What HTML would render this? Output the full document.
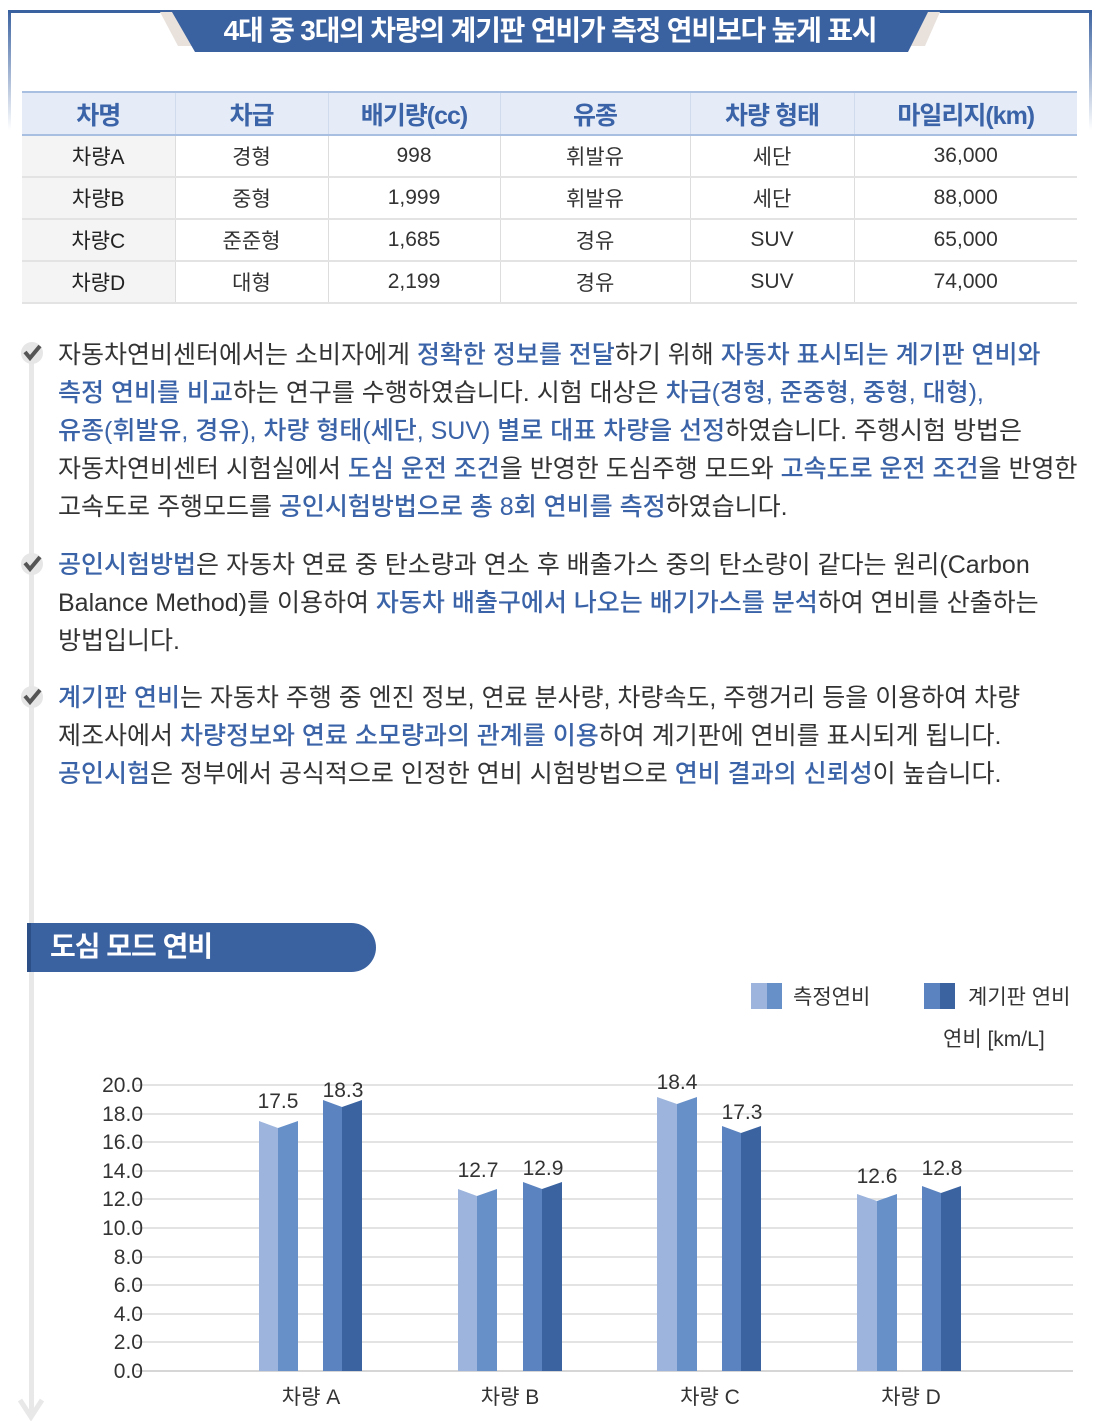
<!DOCTYPE html>
<html><head><meta charset="utf-8">
<style>
body{margin:0;width:1100px;height:1421px;background:#fff;position:relative;overflow:hidden;font-family:"Liberation Sans","Noto Sans CJK KR",sans-serif;color:#333}
.a{position:absolute}
.ln{position:absolute;left:58px;font-size:25px;letter-spacing:0px;white-space:nowrap;line-height:30px;color:#333}
.b{color:#3a63a8;font-weight:500}
table{position:absolute;left:22px;top:91px;width:1055px;border-collapse:collapse;font-size:21px;table-layout:fixed}
td,th{text-align:center;height:40px;padding:0;border-right:1px solid #ddd;border-bottom:2px solid #e3e3e3}
td:last-child,th:last-child{border-right:none}
th{background:#e6ecf7;color:#3a63a8;font-size:25px;font-weight:bold;letter-spacing:-1px;border-top:2px solid #a9bfe2;border-bottom:2px solid #a9bfe2;border-right:1px solid #d0dbee;height:41px}
td:first-child{background:#f4f4f4;color:#222}
</style></head><body>
<div class="a" style="left:8px;top:10px;width:1084px;height:3px;background:#3b62a0"></div>
<div class="a" style="left:8px;top:10px;width:3px;height:120px;background:linear-gradient(#3b62a0,rgba(59,98,160,0))"></div>
<div class="a" style="left:1089px;top:10px;width:3px;height:120px;background:linear-gradient(#3b62a0,rgba(59,98,160,0))"></div>
<svg class="a" style="left:0;top:0" width="1100" height="60">
<polygon points="160,12 178,12 198,46 178,46" fill="#e9e2dc"/>
<polygon points="940,12 922,12 905,46 925,46" fill="#e9e2dc"/>
<polygon points="172,12 928,12 908,52 195,52" fill="#3b62a0"/>
</svg>
<div class="a" style="left:0;width:1100px;top:13px;text-align:center;color:#fff;font-size:28px;font-weight:bold;letter-spacing:-1.2px;line-height:36px">4대 중 3대의 차량의 계기판 연비가 측정 연비보다 높게 표시</div>
<table>
<colgroup><col style="width:153px"><col style="width:153px"><col style="width:172px"><col style="width:190px"><col style="width:164px"><col></colgroup>
<tr><th>차명</th><th>차급</th><th>배기량(cc)</th><th>유종</th><th>차량 형태</th><th>마일리지(km)</th></tr>
<tr><td>차량A</td><td>경형</td><td>998</td><td>휘발유</td><td>세단</td><td>36,000</td></tr>
<tr><td>차량B</td><td>중형</td><td>1,999</td><td>휘발유</td><td>세단</td><td>88,000</td></tr>
<tr><td>차량C</td><td>준준형</td><td>1,685</td><td>경유</td><td>SUV</td><td>65,000</td></tr>
<tr><td>차량D</td><td>대형</td><td>2,199</td><td>경유</td><td>SUV</td><td>74,000</td></tr>
</table>
<div class="a" style="left:29px;top:345px;width:5px;height:1068px;background:#e8e8e8"></div>
<svg class="a" style="left:0;top:1390px" width="70" height="31"><polyline points="20,10 31,27 42,10" fill="none" stroke="#e8e8e8" stroke-width="5"/></svg>
<svg class="a" style="left:18px;top:338px" width="30" height="30"><circle cx="14" cy="15" r="11" fill="#e6e6e6"/><polyline points="7,14 12,20 22,8" fill="none" stroke="#555" stroke-width="4"/></svg>
<svg class="a" style="left:18px;top:549px" width="30" height="30"><circle cx="14" cy="15" r="11" fill="#e6e6e6"/><polyline points="7,14 12,20 22,8" fill="none" stroke="#555" stroke-width="4"/></svg>
<svg class="a" style="left:18px;top:682px" width="30" height="30"><circle cx="14" cy="15" r="11" fill="#e6e6e6"/><polyline points="7,14 12,20 22,8" fill="none" stroke="#555" stroke-width="4"/></svg>

<div class="ln" style="top:340px">자동차연비센터에서는 소비자에게 <span class="b">정확한 정보를 전달</span>하기 위해 <span class="b">자동차 표시되는 계기판 연비와</span></div>
<div class="ln" style="top:378px"><span class="b">측정 연비를 비교</span>하는 연구를 수행하였습니다. 시험 대상은 <span class="b">차급(경형, 준중형, 중형, 대형),</span></div>
<div class="ln" style="top:416px"><span class="b">유종(휘발유, 경유), 차량 형태(세단, SUV) 별로 대표 차량을 선정</span>하였습니다. 주행시험 방법은</div>
<div class="ln" style="top:454px">자동차연비센터 시험실에서 <span class="b">도심 운전 조건</span>을 반영한 도심주행 모드와 <span class="b">고속도로 운전 조건</span>을 반영한</div>
<div class="ln" style="top:492px">고속도로 주행모드를 <span class="b">공인시험방법으로 총 8회 연비를 측정</span>하였습니다.</div>
<div class="ln" style="top:550px"><span class="b">공인시험방법</span>은 자동차 연료 중 탄소량과 연소 후 배출가스 중의 탄소량이 같다는 원리(Carbon</div>
<div class="ln" style="top:588px">Balance Method)를 이용하여 <span class="b">자동차 배출구에서 나오는 배기가스를 분석</span>하여 연비를 산출하는</div>
<div class="ln" style="top:626px">방법입니다.</div>
<div class="ln" style="top:683px"><span class="b">계기판 연비</span>는 자동차 주행 중 엔진 정보, 연료 분사량, 차량속도, 주행거리 등을 이용하여 차량</div>
<div class="ln" style="top:721px">제조사에서 <span class="b">차량정보와 연료 소모량과의 관계를 이용</span>하여 계기판에 연비를 표시되게 됩니다.</div>
<div class="ln" style="top:759px"><span class="b">공인시험</span>은 정부에서 공식적으로 인정한 연비 시험방법으로 <span class="b">연비 결과의 신뢰성</span>이 높습니다.</div>

<div class="a" style="left:27px;top:923px;width:349px;height:49px;background:#3b62a0;border-radius:0 25px 25px 0;border-left:4px solid #2c4f88;box-sizing:border-box"></div>
<div class="a" style="left:50px;top:927px;color:#fff;font-size:28px;font-weight:bold;letter-spacing:-1px;line-height:40px">도심 모드 연비</div>

<svg class="a" style="left:0;top:0" width="1100" height="1421" font-family="Liberation Sans, Noto Sans CJK KR, sans-serif">
<rect x="751" y="983" width="16" height="26" fill="#9db5dc"/><rect x="767" y="983" width="15" height="26" fill="#6790c8"/>
<text x="793" y="1004" font-size="21" fill="#333">측정연비</text>
<rect x="924" y="983" width="16" height="26" fill="#5b83c0"/><rect x="940" y="983" width="15" height="26" fill="#3a63a0"/>
<text x="968" y="1004" font-size="21" fill="#333">계기판 연비</text>
<text x="943" y="1046" font-size="21" fill="#333">연비 [km/L]</text>
<g stroke="#e3e3e3" stroke-width="2">
<line x1="136" x2="1073" y1="1085" y2="1085"/><line x1="136" x2="1073" y1="1114" y2="1114"/><line x1="136" x2="1073" y1="1142" y2="1142"/><line x1="136" x2="1073" y1="1171" y2="1171"/><line x1="136" x2="1073" y1="1199" y2="1199"/><line x1="136" x2="1073" y1="1228" y2="1228"/><line x1="136" x2="1073" y1="1257" y2="1257"/><line x1="136" x2="1073" y1="1285" y2="1285"/><line x1="136" x2="1073" y1="1314" y2="1314"/><line x1="136" x2="1073" y1="1342" y2="1342"/><line x1="136" x2="1073" y1="1371" y2="1371" stroke="#d6d6d6"/>
</g>
<g font-size="21" fill="#333" text-anchor="end">
<text x="143" y="1092">20.0</text><text x="143" y="1121">18.0</text><text x="143" y="1149">16.0</text><text x="143" y="1178">14.0</text><text x="143" y="1206">12.0</text><text x="143" y="1235">10.0</text><text x="143" y="1264">8.0</text><text x="143" y="1292">6.0</text><text x="143" y="1321">4.0</text><text x="143" y="1349">2.0</text><text x="143" y="1378">0.0</text>
</g>
<g font-size="21" fill="#333" text-anchor="middle">
<text x="311" y="1404">차량 A</text><text x="510" y="1404">차량 B</text><text x="710" y="1404">차량 C</text><text x="911" y="1404">차량 D</text>
</g>
<g font-size="21" fill="#333" text-anchor="middle">
<polygon points="259,1121 278,1128 278,1371 259,1371" fill="#9db5dc"/><polygon points="278,1128 298,1121 298,1371 278,1371" fill="#6790c8"/>
<text x="278" y="1108">17.5</text>
<polygon points="323,1100 342,1107 342,1371 323,1371" fill="#5b83c0"/><polygon points="342,1107 362,1100 362,1371 342,1371" fill="#3a63a0"/>
<text x="343" y="1097">18.3</text>
<polygon points="458,1189 477,1196 477,1371 458,1371" fill="#9db5dc"/><polygon points="477,1196 497,1189 497,1371 477,1371" fill="#6790c8"/>
<text x="478" y="1177">12.7</text>
<polygon points="523,1182 542,1189 542,1371 523,1371" fill="#5b83c0"/><polygon points="542,1189 562,1182 562,1371 542,1371" fill="#3a63a0"/>
<text x="543" y="1175">12.9</text>
<polygon points="657,1097 677,1104 677,1371 657,1371" fill="#9db5dc"/><polygon points="677,1104 697,1097 697,1371 677,1371" fill="#6790c8"/>
<text x="677" y="1089">18.4</text>
<polygon points="722,1126 741,1133 741,1371 722,1371" fill="#5b83c0"/><polygon points="741,1133 761,1126 761,1371 741,1371" fill="#3a63a0"/>
<text x="742" y="1119">17.3</text>
<polygon points="857,1194 877,1201 877,1371 857,1371" fill="#9db5dc"/><polygon points="877,1201 897,1194 897,1371 877,1371" fill="#6790c8"/>
<text x="877" y="1183">12.6</text>
<polygon points="922,1186 941,1193 941,1371 922,1371" fill="#5b83c0"/><polygon points="941,1193 961,1186 961,1371 941,1371" fill="#3a63a0"/>
<text x="942" y="1175">12.8</text>
</g>
</svg>
</body></html>
